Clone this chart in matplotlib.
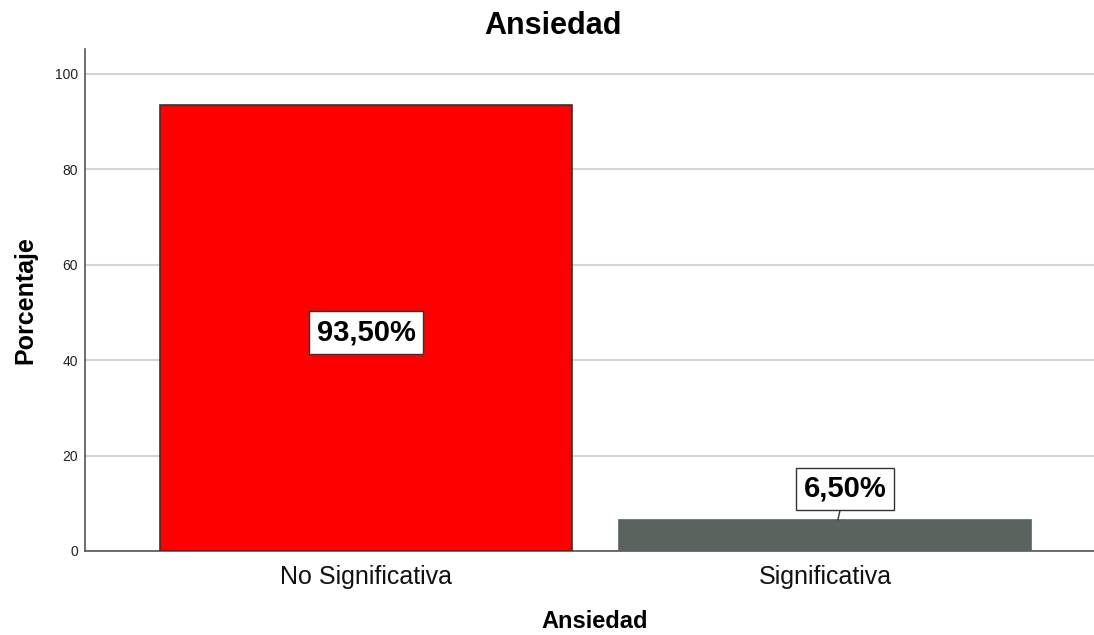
import matplotlib
matplotlib.use("Agg")
import matplotlib.pyplot as plt

categories = ["No Significativa", "Significativa"]
percentages = [93.5, 6.5]
bar_colors = ["#ff0000", "#5b635e"]
edge_colors = ["#333333", "#5b635e"]
y_ticks = [0, 20, 40, 60, 80, 100]

plt.rcParams["font.family"] = ["Liberation Sans", "DejaVu Sans"]

W, H = 1094, 635
fig = plt.figure(figsize=(W / 100, H / 100), dpi=100)
ax = fig.add_axes([85 / W, 84 / H, 1 - 85 / W, (551 - 49) / H])

x = list(range(len(categories)))
ax.bar(x, percentages, width=0.898, color=bar_colors,
       edgecolor=edge_colors, linewidth=1.2, zorder=3)

ax.set_xlim(-0.612, 1.586)
ax.set_ylim(0, 105.2)
ax.set_yticks(y_ticks)
ax.set_yticklabels([str(t) for t in y_ticks], fontsize=10, color="#222222")
ax.set_xticks(x)
ax.set_xticklabels(categories, fontsize=18, color="#111111")
ax.tick_params(axis="both", length=0)
ax.tick_params(axis="x", pad=10)
ax.tick_params(axis="y", pad=5)

ax.yaxis.grid(True, color="#d4d4d4", linewidth=1.5, zorder=0)
ax.set_axisbelow(True)
for side in ["top", "right"]:
    ax.spines[side].set_visible(False)
for side in ["left", "bottom"]:
    ax.spines[side].set_color("#555555")
    ax.spines[side].set_linewidth(1.2)

# title and axis labels placed in figure pixel coordinates
fig.text(553 / W, 1 - 26 / H, "Ansiedad", ha="center", va="center",
         fontsize=22, fontweight="bold")
fig.text(595 / W, 1 - 621 / H, "Ansiedad", ha="center", va="center",
         fontsize=17, fontweight="bold")
fig.text(25 / W, 1 - 300 / H, "Porcentaje", ha="center", va="center",
         rotation=90, fontsize=18, fontweight="bold")

box = dict(boxstyle="square,pad=0.25", fc="white", ec="#333333", lw=1)


def fmt(v):
    return f"{v:.2f}%".replace(".", ",")


# label inside the tall bar
ax.text(x[0], percentages[0] / 2 - 1, fmt(percentages[0]), ha="center", va="center",
        fontsize=21, fontweight="bold", bbox=box, zorder=5)

# label above the short bar with a small leader line
ax.annotate(fmt(percentages[1]), xy=(x[1] + 0.028, percentages[1]),
            xytext=(7, 31), textcoords="offset pixels",
            ha="center", va="center", fontsize=21, fontweight="bold",
            bbox=box, zorder=5,
            arrowprops=dict(arrowstyle="-", color="#333333", lw=1,
                            shrinkA=0, shrinkB=0))

fig.savefig("out.png", dpi=100)
